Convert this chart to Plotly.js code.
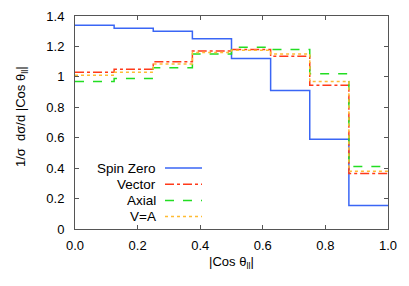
<!DOCTYPE html>
<html><head><meta charset="utf-8">
<script src="https://cdn.plot.ly/plotly-3.0.1.min.js"></script>
<style>body{margin:0;background:#fff}#c{width:409px;height:286px}</style>
</head><body><div id="c"></div>
<script>
const binEdges = [0, 0.125, 0.25, 0.375, 0.5, 0.625, 0.75, 0.875, 1.0];
const seriesNames = ["Spin Zero", "Vector", "Axial", "V=A"];
const spinZero = [1.34, 1.32, 1.30, 1.25, 1.12, 0.91, 0.59, 0.155];
const vector   = [1.03, 1.05, 1.10, 1.17, 1.18, 1.135, 0.945, 0.365];
const axial    = [0.97, 0.99, 1.06, 1.15, 1.195, 1.18, 1.02, 0.41];
const vEqA     = [1.01, 1.03, 1.085, 1.16, 1.175, 1.15, 0.97, 0.38];
const xTickVals = [0, 0.2, 0.4, 0.6, 0.8, 1.0];
const yTickVals = [0, 0.2, 0.4, 0.6, 0.8, 1.0, 1.2, 1.4];
const yTickText = ["0", "0.2", "0.4", "0.6", "0.8", "1", "1.2", "1.4"];
const xTitle = "|Cos θ<sub>ll</sub>|";
const yTitle = "1/σ  dσ/d |Cos θ<sub>ll</sub>|";
const colors = ["#3a66f5", "#ff3a1a", "#22dd22", "#ffbb33"];
const dashes = ["solid", "dashdot", "dash", "dot"];

const all = [spinZero, vector, axial, vEqA];
const traces = all.map((v, i) => ({
  x: binEdges,
  y: v.concat([v[v.length - 1]]),
  mode: "lines",
  line: {shape: "hv", color: colors[i], width: 1.5, dash: dashes[i]},
  name: seriesNames[i],
  showlegend: false,
  hoverinfo: "skip"
}));

const fam = "Liberation Sans, Arial, sans-serif";
const font = {family: fam, size: 13, color: "#000"};
const legFont = {family: fam, size: 13.5, color: "#000"};
const W = 409, H = 286;
const plotL = 75, plotR = 388, plotT = 16, plotB = 229;
const pw = plotR - plotL, ph = plotB - plotT;
const legTop = 168, legStep = 16.2;
const annotations = [], shapes = [];
seriesNames.forEach((n, i) => {
  const py = legTop + i * legStep;
  const yp = (plotB - py) / ph;
  annotations.push({xref: "paper", yref: "paper", x: (158 - plotL) / pw, y: yp, text: n,
    showarrow: false, xanchor: "right", yanchor: "middle", font: legFont});
  shapes.push({type: "line", xref: "paper", yref: "paper",
    x0: (165 - plotL) / pw, x1: (202 - plotL) / pw, y0: yp, y1: yp,
    line: {color: colors[i], width: 1.5, dash: dashes[i]}});
});
annotations.push({xref: "paper", yref: "paper", x: (22 - plotL) / pw, y: (plotB - 117) / ph,
  text: yTitle, textangle: -90, showarrow: false, xanchor: "center", yanchor: "middle", font: font});

const axCommon = {ticks: "inside", ticklen: 4, tickcolor: "#555", showgrid: false, zeroline: false,
  showline: true, linecolor: "#555", linewidth: 1, mirror: "ticks", tickfont: font};
const layout = {
  width: W, height: H,
  margin: {l: plotL, r: W - plotR, t: plotT, b: H - plotB},
  paper_bgcolor: "#fff", plot_bgcolor: "#fff",
  font: font,
  xaxis: Object.assign({}, axCommon, {range: [0, 1], tickvals: xTickVals, tickformat: ".1f",
    ticklabelstandoff: 4,
    title: {text: xTitle, font: font, standoff: 5}}),
  yaxis: Object.assign({}, axCommon, {range: [0, 1.4], tickvals: yTickVals, ticktext: yTickText,
    ticklabelstandoff: 7}),
  annotations: annotations,
  shapes: shapes
};
Plotly.newPlot("c", traces, layout, {staticPlot: true});
</script></body></html>
